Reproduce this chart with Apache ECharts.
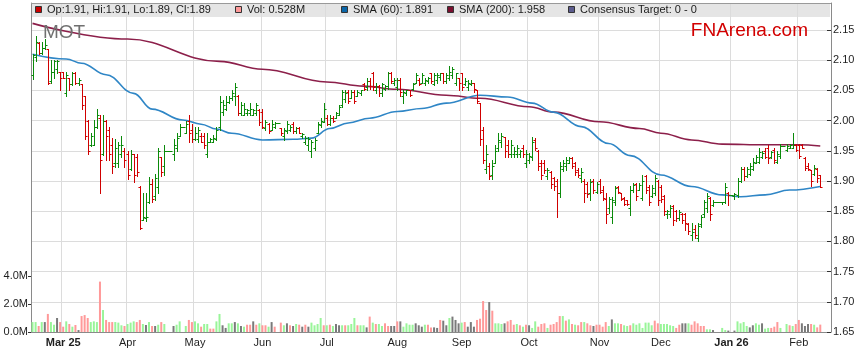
<!DOCTYPE html>
<html><head><meta charset="utf-8">
<script src="https://cdn.jsdelivr.net/npm/echarts@6/dist/echarts.min.js"></script>
<style>html,body{margin:0;padding:0;background:#fff}#c{width:859px;height:363px}</style>
</head><body><div id="c"></div>
<script>
// ---------- data ----------
const firstTradingDay = [2025, 1, 17];   // 17 Feb 2025 (month is 0-based)
const slotCount = 261;                    // weekday slots on the axis
const monthLabels = ['Mar 25','Apr','May','Jun','Jul','Aug','Sep','Oct','Nov','Dec','Jan 26','Feb'];
const priceTicks = { min: 1.65, max: 2.1947, step: 0.05 };
const volumeTicks = [0, 2, 4];

const opens = [
2.075,2.105,2.128,2.112,2.120,2.118,2.065,2.080,2.085,2.080,
2.080,2.045,2.070,2.060,2.078,2.062,2.060,2.040,2.000,1.960,
1.960,1.990,2.005,1.945,2.000,1.985,1.960,1.930,1.930,1.945,
1.950,1.945,1.920,1.944,1.940,1.890,1.836,1.838,1.865,1.895,
1.875,1.890,1.940,1.925,1.949,1.949,1.945,1.955,1.975,1.990,
1.980,2.000,1.985,1.970,1.970,1.975,1.975,1.945,1.965,1.965,
1.970,1.990,2.015,2.020,2.030,2.037,2.040,2.040,2.012,2.010,
2.012,2.012,2.010,2.012,2.018,2.015,1.988,1.995,1.985,1.990,
1.996,1.987,1.975,1.982,1.985,1.995,1.982,1.988,1.975,1.965,
1.960,1.950,1.955,1.980,1.992,1.998,2.005,1.995,2.005,2.005,
2.010,2.025,2.035,2.048,2.038,2.048,2.040,2.045,2.060,2.055,
2.065,2.078,2.050,2.058,2.045,2.052,2.058,2.079,2.062,2.055,
2.068,2.040,2.045,2.050,2.052,2.062,2.068,2.062,2.062,2.065,
2.078,2.060,2.068,2.072,2.078,2.065,2.070,2.075,2.062,2.070,
2.078,2.060,2.055,2.060,2.062,2.051,2.029,1.985,1.920,1.925,
1.910,1.930,1.955,1.965,1.973,1.960,1.945,1.945,1.945,1.945,
1.955,1.930,1.935,1.940,1.968,1.950,1.930,1.930,1.908,1.915,
1.905,1.900,1.880,1.920,1.925,1.930,1.938,1.930,1.918,1.905,
1.900,1.895,1.880,1.900,1.882,1.900,1.885,1.870,1.855,1.840,
1.865,1.890,1.880,1.872,1.868,1.855,1.885,1.895,1.885,1.872,
1.908,1.890,1.875,1.880,1.900,1.890,1.875,1.845,1.845,1.858,
1.850,1.838,1.845,1.845,1.828,1.810,1.820,1.805,1.828,1.845,
1.855,1.872,1.860,1.865,1.865,1.865,1.865,1.880,1.877,1.875,
1.876,1.900,1.920,1.908,1.912,1.920,1.930,1.932,1.940,1.950,
1.955,1.940,1.952,1.932,1.942,1.958,1.952,1.955,1.955,1.960,
1.960,1.960,1.938,1.925,1.918,1.912,1.920,1.910];

const highs = [
2.110,2.140,2.130,2.130,2.135,2.118,2.100,2.100,2.100,2.081,
2.081,2.080,2.070,2.080,2.080,2.070,2.061,2.041,2.001,1.979,
2.001,2.019,2.009,2.009,2.001,1.990,1.971,1.969,1.964,1.975,
1.954,1.950,1.951,1.944,1.944,1.891,1.880,1.880,1.907,1.904,
1.912,1.955,1.940,1.960,1.949,1.949,1.970,1.979,1.994,1.990,
2.000,2.009,1.995,1.989,1.990,1.979,1.979,1.979,1.972,1.976,
1.989,2.041,2.034,2.040,2.040,2.051,2.062,2.042,2.031,2.029,
2.020,2.029,2.020,2.029,2.020,2.020,2.001,1.996,2.001,1.998,
1.996,1.987,1.987,2.000,1.993,1.998,1.990,1.990,1.979,1.975,
1.973,1.968,1.971,1.998,2.004,2.029,2.009,2.009,2.007,2.015,
2.026,2.050,2.050,2.050,2.051,2.050,2.051,2.051,2.062,2.070,
2.070,2.081,2.062,2.059,2.062,2.059,2.081,2.081,2.070,2.070,
2.070,2.051,2.051,2.051,2.062,2.079,2.070,2.079,2.070,2.073,
2.079,2.079,2.079,2.079,2.079,2.079,2.090,2.089,2.079,2.070,
2.079,2.070,2.067,2.067,2.062,2.051,2.029,1.989,1.960,1.929,
1.935,1.960,1.979,1.979,1.973,1.968,1.968,1.957,1.960,1.951,
1.960,1.951,1.946,1.973,1.971,1.951,1.935,1.935,1.921,1.916,
1.907,1.904,1.932,1.935,1.939,1.939,1.939,1.932,1.921,1.921,
1.904,1.899,1.904,1.904,1.899,1.904,1.891,1.880,1.874,1.874,
1.891,1.891,1.880,1.874,1.869,1.891,1.896,1.896,1.896,1.910,
1.910,1.893,1.893,1.910,1.902,1.893,1.877,1.852,1.860,1.860,
1.852,1.852,1.847,1.847,1.830,1.830,1.827,1.830,1.844,1.869,
1.880,1.874,1.868,1.865,1.865,1.866,1.896,1.882,1.877,1.880,
1.905,1.924,1.924,1.924,1.929,1.938,1.943,1.954,1.949,1.954,
1.960,1.949,1.954,1.949,1.961,1.958,1.961,1.961,1.979,1.961,
1.961,1.961,1.940,1.929,1.918,1.927,1.921,1.910];

const lows = [
2.069,2.099,2.110,2.110,2.118,2.061,2.062,2.070,2.078,2.051,
2.070,2.040,2.050,2.059,2.061,2.059,2.019,1.969,1.944,1.958,
1.959,1.987,1.880,1.943,1.935,1.935,1.914,1.924,1.924,1.940,
1.924,1.903,1.918,1.898,1.908,1.820,1.836,1.833,1.863,1.866,
1.869,1.880,1.909,1.910,1.949,1.949,1.935,1.949,1.975,1.990,
1.979,1.965,1.964,1.968,1.965,1.964,1.954,1.939,1.964,1.964,
1.968,1.985,2.009,2.018,2.029,2.034,2.026,2.009,2.009,2.009,
2.009,2.009,2.009,2.009,1.993,1.987,1.984,1.979,1.984,1.987,
1.996,1.976,1.968,1.979,1.982,1.979,1.979,1.979,1.971,1.962,
1.951,1.939,1.951,1.979,1.990,1.998,1.993,1.993,1.998,2.004,
2.009,2.023,2.031,2.029,2.037,2.029,2.040,2.042,2.050,2.051,
2.053,2.051,2.045,2.040,2.040,2.051,2.053,2.062,2.059,2.051,
2.040,2.029,2.042,2.040,2.051,2.062,2.059,2.062,2.059,2.062,
2.062,2.059,2.062,2.067,2.062,2.062,2.067,2.070,2.059,2.051,
2.051,2.059,2.051,2.059,2.048,2.029,1.960,1.929,1.913,1.904,
1.904,1.929,1.949,1.957,1.940,1.940,1.940,1.940,1.940,1.940,
1.940,1.924,1.929,1.935,1.951,1.919,1.904,1.913,1.904,1.888,
1.885,1.841,1.874,1.916,1.918,1.929,1.921,1.910,1.907,1.899,
1.866,1.874,1.869,1.880,1.880,1.880,1.869,1.830,1.847,1.830,
1.860,1.880,1.869,1.860,1.860,1.844,1.882,1.869,1.885,1.869,
1.880,1.860,1.874,1.877,1.860,1.866,1.844,1.838,1.841,1.827,
1.833,1.836,1.830,1.819,1.813,1.802,1.805,1.801,1.824,1.841,
1.849,1.836,1.858,1.865,1.865,1.862,1.863,1.860,1.877,1.871,
1.874,1.899,1.902,1.907,1.910,1.918,1.929,1.929,1.938,1.938,
1.929,1.938,1.929,1.929,1.938,1.958,1.949,1.954,1.954,1.949,
1.938,1.954,1.918,1.918,1.891,1.910,1.899,1.890];

const closes = [
2.108,2.130,2.112,2.120,2.125,2.062,2.080,2.098,2.098,2.070,
2.071,2.075,2.060,2.078,2.062,2.068,2.025,1.975,1.950,1.975,
1.990,2.010,1.935,2.000,1.975,1.945,1.925,1.955,1.960,1.960,
1.935,1.910,1.945,1.910,1.915,1.822,1.840,1.840,1.895,1.870,
1.905,1.950,1.915,1.949,1.949,1.949,1.960,1.972,1.990,1.990,
1.995,1.980,1.970,1.980,1.985,1.965,1.960,1.965,1.970,1.972,
1.985,2.030,2.025,2.030,2.037,2.045,2.055,2.012,2.025,2.020,
2.018,2.020,2.018,2.025,1.998,1.990,1.998,1.982,1.995,1.996,
1.996,1.980,1.985,1.995,1.990,1.982,1.988,1.980,1.978,1.972,
1.970,1.965,1.968,1.995,2.000,2.020,1.995,2.005,2.000,2.012,
2.022,2.048,2.045,2.032,2.048,2.032,2.048,2.050,2.052,2.065,
2.058,2.055,2.058,2.045,2.060,2.058,2.079,2.065,2.068,2.068,
2.048,2.048,2.050,2.042,2.060,2.075,2.060,2.075,2.068,2.070,
2.065,2.075,2.075,2.078,2.065,2.075,2.080,2.085,2.078,2.062,
2.055,2.065,2.062,2.062,2.052,2.032,1.970,1.935,1.945,1.908,
1.925,1.950,1.968,1.975,1.950,1.945,1.960,1.950,1.955,1.950,
1.945,1.945,1.942,1.965,1.955,1.925,1.910,1.918,1.918,1.895,
1.892,1.880,1.925,1.930,1.935,1.938,1.925,1.915,1.910,1.915,
1.880,1.878,1.898,1.885,1.895,1.882,1.872,1.845,1.870,1.868,
1.888,1.882,1.870,1.862,1.862,1.885,1.893,1.875,1.893,1.900,
1.885,1.865,1.888,1.905,1.868,1.870,1.850,1.850,1.855,1.835,
1.838,1.848,1.835,1.830,1.818,1.815,1.810,1.825,1.840,1.865,
1.875,1.845,1.865,1.865,1.865,1.865,1.890,1.877,1.877,1.878,
1.900,1.920,1.908,1.920,1.925,1.932,1.940,1.948,1.946,1.940,
1.938,1.948,1.935,1.945,1.958,1.958,1.958,1.960,1.960,1.952,
1.942,1.955,1.922,1.920,1.900,1.922,1.905,1.890];

// volume in millions (null = market holiday)
const volumes = [
.71,.71,.43,.71,.71,1.29,.71,.52,1.0,.71,
.38,.76,.57,.38,.5,.14,1.14,1.21,1.0,.71,
.76,.71,3.6,1.57,.86,.71,.71,.71,.67,.48,
.43,.57,.67,.76,.71,.86,.57,.5,.71,.43,
.43,.52,.71,.57,null,null,.43,.52,.76,null,
.43,.86,.71,.76,.62,.38,.57,.57,.24,.24,
.76,1.29,.48,.29,.62,.62,.71,.62,.43,.38,
.52,.52,.76,.52,.62,.48,.48,.38,.71,.38,
null,.67,.48,.62,.48,.43,.57,.52,.38,.52,
.38,.67,.48,.57,1.0,.48,.48,.52,.43,.57,
.48,.48,.48,.48,.57,1.0,.48,.48,.48,.33,
1.1,.67,.57,.57,.43,.62,.43,.43,.43,.76,
.76,.38,.62,.52,.52,.62,.48,.38,.52,.52,
.33,.33,.29,.86,.81,.48,1.0,1.10,.86,.62,
.67,.71,.38,.71,.38,.86,.95,2.21,1.57,2.14,
1.52,.62,.62,.57,.62,.76,.86,.52,.57,.48,
.38,.52,.48,.29,.76,.38,.57,.62,.29,.52,
.57,.71,1.14,1.14,.81,.90,.57,.52,.48,.71,
.71,.62,.48,.43,.52,.52,.38,.71,.43,.90,
.62,.62,.57,.48,.43,.48,.62,.52,.62,.29,
.67,.67,.48,.81,.62,.57,.57,.57,.48,.43,
.29,.52,.62,.62,.62,.52,.76,.62,.43,.43,
.19,.19,.14,null,null,.29,.14,.10,null,.10,
.76,.62,.71,.43,.33,.48,.62,.52,.62,.24,
.29,.29,.38,.71,.29,null,.57,.48,.43,.57,
.86,.62,.43,.57,.57,.52,.33,.528];

// volume bar colour per day: g = up, p = down, n = unchanged, - = holiday
const volumeDirs =
"ggpgnpggnp"+"pgpgpnpppg"+"ggpgpppggg"+"pgggppgngp"+"ngpg--ngg-"+
"gppggpggpp"+"ggnnggngng"+"ppnpgppgnp"+"-pgnpngpnp"+"nggggpgpgn"+
"ngpgggpggn"+"pgpggppnnp"+"nggggnnngp"+"pnnpnngnnn"+"gpnnnppppn"+
"pgggnpppgp"+"gpnggpppgp"+"pppgpgpgpp"+"gppnppppgn"+"ggpggpgggg"+
"gggppggggg"+"ppnngppppp"+"ggn--ggn-n"+"ggggnnggng"+"gpppg-gpgp"+
"pnnnpgpp";

// moving averages: [slot, value]
const sma60 = [[0,2.110],[11,2.102],[16,2.095],[24,2.076],[33,2.045],[39,2.019],[49,2.001],
[55,1.994],[60,1.986],[65,1.979],[75,1.968],[85,1.969],[91,1.971],[97,1.987],[103,1.996],
[110,2.004],[119,2.015],[127,2.020],[135,2.029],[146,2.042],[155,2.039],[163,2.029],
[170,2.014],[179,1.990],[188,1.962],[195,1.942],[205,1.910],[215,1.891],[225,1.877],
[231,1.874],[239,1.877],[247,1.885],[257,1.891]];
const sma200 = [[0,2.161],[31,2.135],[61,2.098],[75,2.085],[96,2.064],[108,2.057],[119,2.052],
[135,2.042],[146,2.037],[162,2.023],[170,2.014],[185,1.998],[198,1.987],[205,1.979],
[215,1.968],[225,1.961],[239,1.960],[250,1.960],[257,1.958]];

// ---------- build ----------
const FONT = "'Liberation Sans', Arial, sans-serif";
const categories = [];
{
  const d = new Date(Date.UTC(firstTradingDay[0], firstTradingDay[1], firstTradingDay[2]));
  while (categories.length < slotCount) {
    const wd = d.getUTCDay();
    if (wd !== 0 && wd !== 6) categories.push(d.toISOString().slice(0, 10));
    d.setUTCDate(d.getUTCDate() + 1);
  }
}
const monthStartLabel = {};
{
  let m = 0;
  for (let i = 1; i < categories.length; i++) {
    if (categories[i].slice(5, 7) !== categories[i - 1].slice(5, 7)) monthStartLabel[categories[i]] = monthLabels[m++];
  }
}
const isMonthStart = (idx, val) => monthStartLabel[categories[idx]] !== undefined;

const ohlcData = opens.map((o, i) => [i, o, highs[i], lows[i], closes[i]]);
const volColors = { g: '#99f599', p: '#ff9999', n: '#7a7a7a', '-': '#ffffff' };
const volData = volumes.map((v, i) => ({ value: v, itemStyle: { color: volColors[volumeDirs[i]] } }));

const chart = echarts.init(document.getElementById('c'), null, { renderer: 'canvas' });

function legendItem(x, color, text) {
  return [
    { type: 'rect', shape: { x: x + 0.5, y: 6.5, width: 6, height: 6 }, style: { fill: color, stroke: '#333', lineWidth: 1 }, z: 50 },
    { type: 'text', x: x + 12, y: 10, style: { text: text, fill: '#1a1a1a', font: '11px ' + FONT, verticalAlign: 'middle' }, z: 50 }
  ];
}

const option = {
  animation: false,
  backgroundColor: '#ffffff',
  grid: { left: 31, right: 28, top: 3, bottom: 31, containLabel: false },
  xAxis: {
    type: 'category', data: categories, boundaryGap: true,
    axisLine: { show: true, lineStyle: { color: '#8a8a8a', width: 1 } },
    axisTick: { show: false },
    axisLabel: {
      interval: isMonthStart, margin: 5, color: '#1e1e1e', fontSize: 11, fontFamily: FONT,
      formatter: function (val) {
        const t = monthStartLabel[val];
        if (!t) return '';
        return /\d/.test(t) ? '{b|' + t + '}' : t;
      },
      rich: { b: { fontWeight: 'bold', fontSize: 11, fontFamily: FONT, color: '#1e1e1e' } }
    },
    splitLine: { show: true, interval: isMonthStart, lineStyle: { color: '#dcdcdc', width: 1 } }
  },
  yAxis: [
    {
      type: 'value', position: 'left', min: 0, max: 23.5,
      axisLine: { show: true, lineStyle: { color: '#8a8a8a' } },
      axisTick: { show: true, inside: false, length: 3, customValues: volumeTicks, lineStyle: { color: '#333' } },
      axisLabel: { customValues: volumeTicks, margin: 3, color: '#1e1e1e', fontSize: 11, fontFamily: FONT,
        formatter: v => v.toFixed(1) + 'M' },
      splitLine: { show: false }
    },
    {
      type: 'value', position: 'right', min: priceTicks.min, max: priceTicks.max, interval: priceTicks.step,
      axisLine: { show: true, lineStyle: { color: '#8a8a8a' } },
      axisTick: { show: true, inside: true, length: 4, lineStyle: { color: '#333' } },
      axisLabel: { showMaxLabel: false, margin: 2, color: '#1e1e1e', fontSize: 11, fontFamily: FONT,
        formatter: v => v.toFixed(2) },
      splitLine: { show: true, lineStyle: { color: '#dcdcdc', width: 1 } }
    }
  ],
  series: [
    {
      type: 'bar', name: 'Vol', yAxisIndex: 0, data: volData, barWidth: 2, z: 1,
      itemStyle: { borderWidth: 0 }
    },
    {
      type: 'line', name: 'SMA200', yAxisIndex: 1, data: sma200, smooth: 0.4, smoothMonotone: 'x',
      symbol: 'none', lineStyle: { color: '#8c1f4a', width: 1.6 }, z: 3
    },
    {
      type: 'line', name: 'SMA60', yAxisIndex: 1, data: sma60, smooth: 0.4, smoothMonotone: 'x',
      symbol: 'none', lineStyle: { color: '#2f86c6', width: 1.6 }, z: 3
    },
    {
      type: 'custom', name: 'OHLC', yAxisIndex: 1, data: ohlcData, z: 4,
      encode: { x: 0, y: [1, 2, 3, 4] },
      renderItem: function (params, api) {
        const i = api.value(0);
        const o = api.value(1), h = api.value(2), l = api.value(3), c = api.value(4);
        const pH = api.coord([i, h]), pL = api.coord([i, l]);
        const pO = api.coord([i, o]), pC = api.coord([i, c]);
        const bw = api.size([1, 0])[0];
        const x = Math.round(pH[0]) + 0.5;
        const t = bw * 0.5;
        const col = c >= o ? '#0a8a0a' : '#d00000';
        const st = { stroke: col, lineWidth: 1 };
        const yo = Math.round(pO[1]) + 0.5, yc = Math.round(pC[1]) + 0.5;
        let y1 = Math.round(pH[1]), y2 = Math.round(pL[1]) + 1;
        return {
          type: 'group', children: [
            { type: 'line', shape: { x1: x, y1: y1, x2: x, y2: y2 }, style: st },
            { type: 'line', shape: { x1: x - t - 0.5, y1: yo, x2: x, y2: yo }, style: st },
            { type: 'line', shape: { x1: x, y1: yc, x2: x + t + 0.5, y2: yc }, style: st }
          ]
        };
      }
    }
  ],
  graphic: [
    { type: 'rect', shape: { x: 31, y: 3, width: 799, height: 14 }, style: { fill: '#e5e5e5' }, z: -10 },
    { type: 'line', shape: { x1: 31, y1: 3.5, x2: 831, y2: 3.5 }, style: { stroke: '#9a9a9a', lineWidth: 1 }, z: 40 },
    ...legendItem(35, '#cc0000', 'Op:1.91, Hi:1.91, Lo:1.89, Cl:1.89'),
    ...legendItem(235, '#ff9999', 'Vol: 0.528M'),
    ...legendItem(341, '#0a66a8', 'SMA (60): 1.891'),
    ...legendItem(447, '#7a0f2f', 'SMA (200): 1.958'),
    ...legendItem(568, '#5c5c8e', 'Consensus Target: 0 - 0'),
    { type: 'text', x: 43, y: 32.5, z: 60,
      style: { text: 'MOT', fill: '#707070', font: '19px ' + FONT, verticalAlign: 'middle',
        textShadowColor: 'rgba(90,160,230,0.55)', textShadowOffsetX: 1, textShadowOffsetY: 0, textShadowBlur: 0 } },
    { type: 'text', x: 808, y: 31, z: 60,
      style: { text: 'FNArena.com', fill: '#d20000', font: '19px ' + FONT, align: 'right', verticalAlign: 'middle' } }
  ]
};
chart.setOption(option);
</script>
</body></html>
